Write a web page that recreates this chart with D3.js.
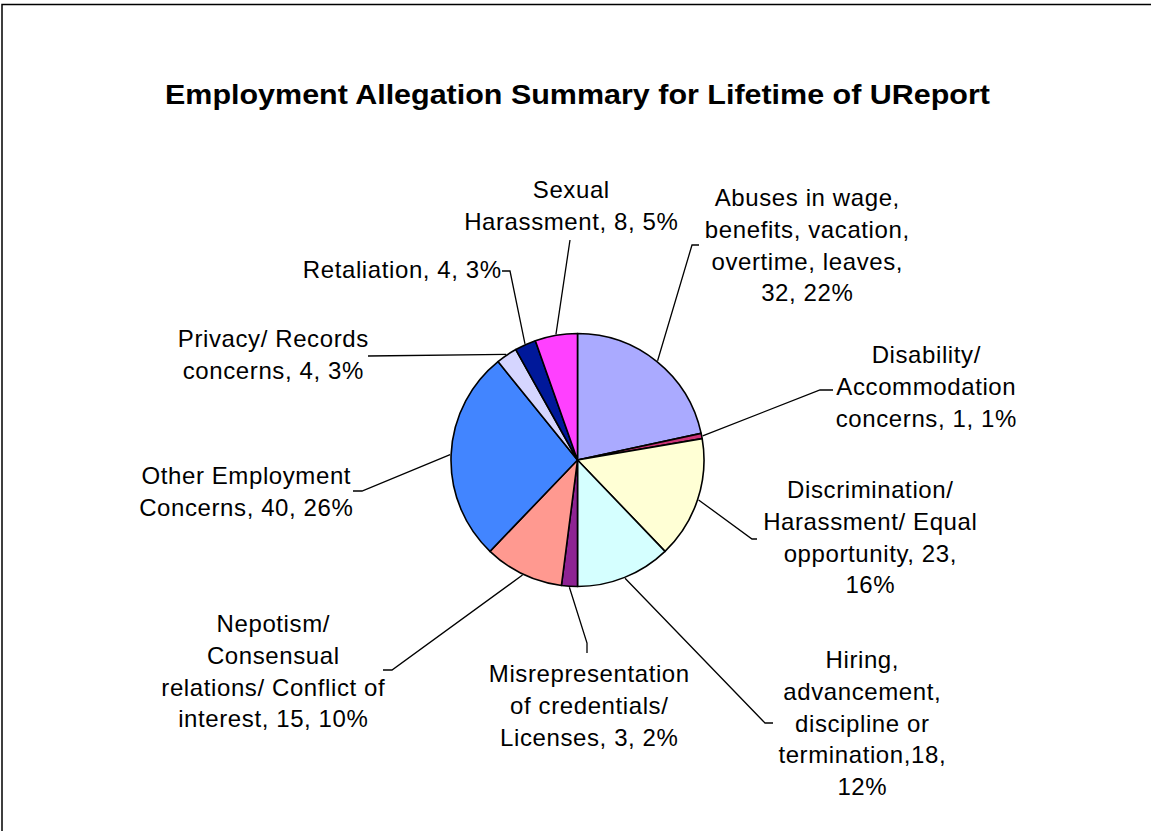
<!DOCTYPE html>
<html>
<head>
<meta charset="utf-8">
<script src="https://cdn.jsdelivr.net/npm/d3@7"></script>
<style>
  html, body { margin: 0; padding: 0; background: #fff; }
  svg { display: block; }
</style>
</head>
<body>
<svg id="chart" width="1151" height="831"></svg>
<script>
// ---- data ----
const categories = [
  "Abuses in wage, benefits, vacation, overtime, leaves",
  "Disability/ Accommodation concerns",
  "Discrimination/ Harassment/ Equal opportunity",
  "Hiring, advancement, discipline or termination",
  "Misrepresentation of credentials/ Licenses",
  "Nepotism/ Consensual relations/ Conflict of interest",
  "Other Employment Concerns",
  "Privacy/ Records concerns",
  "Retaliation",
  "Sexual Harassment"
];
const values = [32, 1, 23, 18, 3, 15, 40, 4, 4, 8];
const percentLabels = ["22%", "1%", "16%", "12%", "2%", "10%", "26%", "3%", "3%", "5%"];
const labelLines = [
  ["Abuses in wage,", "benefits, vacation,", "overtime, leaves,", "32, 22%"],
  ["Disability/", "Accommodation", "concerns, 1, 1%"],
  ["Discrimination/", "Harassment/ Equal", "opportunity, 23,", "16%"],
  ["Hiring,", "advancement,", "discipline or", "termination,18,", "12%"],
  ["Misrepresentation", "of credentials/", "Licenses, 3, 2%"],
  ["Nepotism/", "Consensual", "relations/ Conflict of", "interest, 15, 10%"],
  ["Other Employment", "Concerns, 40, 26%"],
  ["Privacy/ Records", "concerns, 4, 3%"],
  ["Retaliation, 4, 3%"],
  ["Sexual", "Harassment, 8, 5%"]
];
const colors = ["#AAAAFF", "#CC3377", "#FFFFD5", "#D5FFFF", "#8E2393",
                "#FF9990", "#4285FF", "#D5D5FF", "#00189A", "#FF40FF"];
const titleText = "Employment Allegation Summary for Lifetime of UReport";

// ---- layout (positions only) ----
const W = 1151, H = 831;
const cx = 577.5, cy = 460, R = 126.5;
const lineGap = 31.8;
// label block: centre x, first baseline
const labelPos = [
  [807, 206], [926, 363], [870, 498], [862, 668], [589, 682],
  [273, 632], [246, 484], [273, 347], [402, 278], [571, 198]
];
// leader line points after the point on the pie edge
const leaderPts = [
  [[692, 245], [699, 245]],
  [[820, 390], [833, 390]],
  [[752, 539], [757, 539]],
  [[765, 723], [773, 723]],
  [[587, 643], [587, 653]],
  [[392, 670], [383, 670]],
  [[362, 491], [353, 491]],
  [[368, 356]],
  [[510, 271], [502, 271]],
  [[570, 240]]
];

const svg = d3.select("#chart");

// outer border
svg.append("rect")
  .attr("x", 2).attr("y", 4.5)
  .attr("width", W + 10).attr("height", H + 10)
  .attr("fill", "#fff").attr("stroke", "#000").attr("stroke-width", 1.5);

// title
svg.append("text")
  .attr("x", cx).attr("y", 104)
  .attr("text-anchor", "middle")
  .attr("font-family", "'Liberation Sans', Arial, sans-serif")
  .attr("font-weight", "bold")
  .attr("font-size", 28)
  .attr("textLength", 825)
  .attr("lengthAdjust", "spacingAndGlyphs")
  .text(titleText);

const pie = d3.pie().sort(null).value(d => d)(values);
const arc = d3.arc().innerRadius(0).outerRadius(R);
const edge = d3.arc().innerRadius(R + 1).outerRadius(R + 1);

const g = svg.append("g").attr("transform", `translate(${cx},${cy})`);
g.selectAll("path.slice")
  .data(pie)
  .join("path")
  .attr("class", "slice")
  .attr("d", arc)
  .attr("fill", (d, i) => colors[i])
  .attr("stroke", "#000")
  .attr("stroke-width", 1.6)
  .attr("stroke-linejoin", "round");

// leader lines
const line = d3.line();
pie.forEach((d, i) => {
  const c = edge.centroid(d);
  const pts = [[cx + c[0], cy + c[1]]].concat(leaderPts[i]);
  svg.append("path")
    .attr("d", line(pts))
    .attr("fill", "none")
    .attr("stroke", "#000")
    .attr("stroke-width", 1.3);
});

// labels
labelLines.forEach((lines, i) => {
  const t = svg.append("text")
    .attr("text-anchor", "middle")
    .attr("font-family", "'Liberation Sans', Arial, sans-serif")
    .attr("font-size", 24)
    .attr("letter-spacing", 0.6)
    .attr("fill", "#000");
  lines.forEach((s, j) => {
    t.append("tspan")
      .attr("x", labelPos[i][0] + 0.3)
      .attr("y", labelPos[i][1] + j * lineGap)
      .text(s);
  });
});
</script>
</body>
</html>
